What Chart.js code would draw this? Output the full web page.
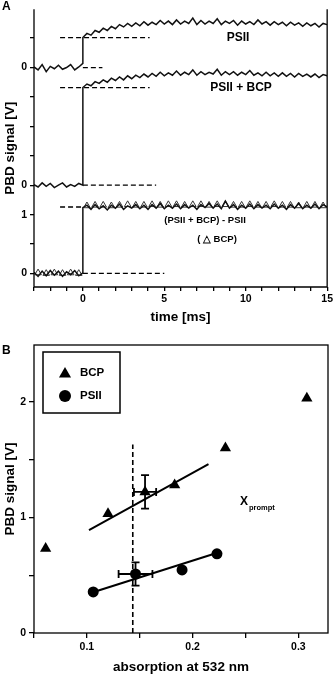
<!DOCTYPE html>
<html>
<head>
<meta charset="utf-8">
<script src="https://cdn.jsdelivr.net/npm/chart.js@4.4.0/dist/chart.umd.min.js"></script>
<style>
  html, body { margin: 0; padding: 0; background: #fff; }
  #wrap { position: relative; width: 335px; height: 675px; }
  canvas { position: absolute; left: 0; }
</style>
</head>
<body>
<div id="wrap">
  <canvas id="chartA" width="335" height="333" style="top:0;width:335px;height:333px"></canvas>
  <canvas id="chartB" width="335" height="342" style="top:333px;width:335px;height:342px"></canvas>
</div>
<script>
// ---- panel A: PBD traces (time in ms, signal in V, each trace relative to its own zero)
const timePre = [-3, -2.75, -2.5, -2.25, -2, -1.75, -1.5, -1.25, -1, -0.75, -0.5, -0.25, 0];
const timePost = [0, 0.25, 0.5, 0.75, 1, 1.25, 1.5, 1.75, 2, 2.25, 2.5, 2.75, 3, 3.25, 3.5, 3.75,
  4, 4.25, 4.5, 4.75, 5, 5.25, 5.5, 5.75, 6, 6.25, 6.5, 6.75, 7, 7.25, 7.5, 7.75,
  8, 8.25, 8.5, 8.75, 9, 9.25, 9.5, 9.75, 10, 10.25, 10.5, 10.75, 11, 11.25, 11.5, 11.75,
  12, 12.25, 12.5, 12.75, 13, 13.25, 13.5, 13.75, 14, 14.25, 14.5, 14.75, 15];

const psiiPre = [0.01, -0.04, 0.05, -0.07, 0.02, -0.02, 0.04, -0.03, 0.00, 0.05, -0.04, 0.01, 0.07];
const psiiPost = [0.51, 0.58, 0.55, 0.63, 0.60, 0.67, 0.63, 0.70, 0.66, 0.73, 0.69, 0.75,
  0.70, 0.76, 0.71, 0.78, 0.72, 0.77, 0.73, 0.80, 0.74, 0.79, 0.73, 0.81,
  0.74, 0.79, 0.75, 0.84, 0.73, 0.80, 0.74, 0.79, 0.75, 0.83, 0.73, 0.79,
  0.75, 0.80, 0.72, 0.79, 0.74, 0.78, 0.73, 0.81, 0.74, 0.78, 0.72, 0.78,
  0.73, 0.77, 0.71, 0.77, 0.72, 0.76, 0.70, 0.76, 0.71, 0.75, 0.69, 0.75, 0.73];

const psiiBcpPre = [0.01, -0.03, 0.04, -0.02, 0.03, -0.04, 0.00, 0.04, -0.03, 0.01, -0.02, 0.03, 0.00];
const psiiBcpPost = [1.66, 1.72, 1.69, 1.76, 1.73, 1.79, 1.75, 1.82, 1.78, 1.84, 1.79, 1.86,
  1.81, 1.87, 1.83, 1.89, 1.84, 1.90, 1.85, 1.92, 1.86, 1.91, 1.87, 1.94,
  1.87, 1.92, 1.88, 1.96, 1.87, 1.93, 1.88, 1.92, 1.89, 1.97, 1.87, 1.93,
  1.88, 1.93, 1.87, 1.92, 1.88, 1.95, 1.87, 1.91, 1.86, 1.92, 1.86, 1.91,
  1.85, 1.91, 1.85, 1.90, 1.84, 1.90, 1.85, 1.89, 1.84, 1.89, 1.83, 1.88, 1.86];

const diffPre = [0.02, -0.05, 0.04, -0.04, 0.05, -0.03, 0.04, -0.05, 0.03, -0.02, 0.05, -0.04, 0.01];
const diffPost = [1.12, 1.16, 1.09, 1.17, 1.10, 1.15, 1.08, 1.16, 1.11, 1.18, 1.09, 1.15,
  1.11, 1.17, 1.10, 1.16, 1.09, 1.17, 1.11, 1.19, 1.10, 1.16, 1.11, 1.18,
  1.10, 1.17, 1.11, 1.16, 1.09, 1.17, 1.12, 1.19, 1.11, 1.18, 1.10, 1.23,
  1.11, 1.17, 1.09, 1.16, 1.11, 1.18, 1.10, 1.17, 1.11, 1.16, 1.10, 1.18,
  1.11, 1.16, 1.09, 1.17, 1.11, 1.19, 1.10, 1.16, 1.11, 1.18, 1.10, 1.17, 1.13];

// open triangles: BCP trace overlaid on the difference
const bcpTime = [-2.75, -2.25, -1.75, -1.25, -0.75, -0.25, 0.25, 0.75, 1.25, 1.75, 2.25, 2.75,
  3.25, 3.75, 4.25, 4.75, 5.25, 5.75, 6.25, 6.75, 7.25, 7.75, 8.25, 8.75,
  9.25, 9.75, 10.25, 10.75, 11.25, 11.75, 12.25, 12.75, 13.25, 13.75, 14.25, 14.75];
const bcpSignal = [0.01, 0.00, 0.01, 0.00, 0.01, 0.00, 1.15, 1.16, 1.16, 1.15, 1.16, 1.17,
  1.16, 1.16, 1.17, 1.16, 1.17, 1.17, 1.16, 1.17, 1.17, 1.16, 1.17, 1.17,
  1.16, 1.16, 1.17, 1.16, 1.16, 1.17, 1.16, 1.16, 1.15, 1.16, 1.16, 1.15];

// zero level of each stacked trace on the shared axis
const traceOffsets = [3.5, 1.5, 0];
// prompt (jump) level of each trace and the dashed guide extents
const jumpLevels = [0.51, 1.66, 1.13];
const jumpDashFrom = [-1.4, -1.4, -1.4];
const jumpDashTo = [4.1, 4.1, 0];
const baseDashTo = [1.2, 4.5, 5];

const xTicksA = [-3, -2, -1, 0, 1, 2, 3, 4, 5, 6, 7, 8, 9, 10, 11, 12, 13, 14, 15];
const yTicksA = [0, 0.5, 1, 1.5, 2, 2.5, 3, 3.5, 4];
const yTickLabelsA = { '0': '0', '1': '1', '1.5': '0', '3.5': '0' };

// ---- panel B: PBD signal vs absorption
const bcpAbs = [0.061, 0.12, 0.155, 0.183, 0.231, 0.308];
const bcpPbd = [0.73, 1.03, 1.22, 1.28, 1.60, 2.03];
const psiiAbs = [0.106, 0.146, 0.19, 0.223];
const psiiPbd = [0.355, 0.51, 0.545, 0.685];
const bcpFitX = [0.102, 0.215];
const bcpFitY = [0.89, 1.46];
const psiiFitX = [0.105, 0.222];
const psiiFitY = [0.35, 0.69];
const promptAbs = 0.1434;
const promptTop = 1.63;
// error bars: [index, x error, y error]
const bcpErr = [2, 0.0105, 0.145];
const psiiErr = [1, 0.016, 0.1];

const xTicksB = [0.05, 0.1, 0.15, 0.2, 0.25, 0.3];
const yTicksB = [0, 0.5, 1, 1.5, 2];

const FONT = "'Liberation Sans', Arial, sans-serif";
Chart.defaults.font.family = FONT;
Chart.defaults.color = '#000';

const pts = (xs, ys, off) => xs.map((x, i) => ({ x: x, y: ys[i] + (off || 0) }));

const tickFont = { size: 10.5, weight: 'bold' };
const titleFont = { size: 13.5, weight: 'bold' };
const axisGrid = { drawOnChartArea: false, tickLength: 4, color: '#000', lineWidth: 1.3 };

// ---- chart A
const pre = [psiiPre, psiiBcpPre, diffPre];
const post = [psiiPost, psiiBcpPost, diffPost];
const dsA = [];
for (let i = 0; i < 3; i++) {
  dsA.push({
    data: pts(timePre, pre[i], traceOffsets[i]).concat(pts(timePost, post[i], traceOffsets[i])),
    showLine: true, borderColor: '#111', borderWidth: 1.5, pointRadius: 0
  });
  dsA.push({
    data: [{ x: jumpDashFrom[i], y: jumpLevels[i] + traceOffsets[i] }, { x: jumpDashTo[i], y: jumpLevels[i] + traceOffsets[i] }],
    showLine: true, borderColor: '#000', borderWidth: 1.3, borderDash: [5, 3], pointRadius: 0
  });
  dsA.push({
    data: [{ x: 0, y: traceOffsets[i] }, { x: baseDashTo[i], y: traceOffsets[i] }],
    showLine: true, borderColor: '#000', borderWidth: 1.3, borderDash: [5, 3], pointRadius: 0
  });
}
dsA.push({
  data: pts(bcpTime, bcpSignal, 0),
  showLine: false, pointStyle: 'triangle', pointRadius: 3.8,
  pointBorderColor: '#333', pointBackgroundColor: 'rgba(0,0,0,0)', pointBorderWidth: 1
});

const panelA = {
  id: 'panelA',
  afterDraw(chart) {
    const { ctx, chartArea: a } = chart;
    ctx.save();
    ctx.strokeStyle = '#000';
    ctx.lineWidth = 1.3;
    ctx.beginPath();
    ctx.moveTo(a.left, a.top);
    ctx.lineTo(a.left, a.bottom);
    ctx.lineTo(a.right, a.bottom);
    ctx.lineTo(a.right, a.top);
    ctx.stroke();
    ctx.fillStyle = '#000';
    ctx.textAlign = 'center';
    ctx.textBaseline = 'middle';
    ctx.font = 'bold 12px ' + FONT;
    ctx.fillText('PSII', 238, 38);
    ctx.fillText('PSII + BCP', 241, 88);
    ctx.font = 'bold 9.5px ' + FONT;
    ctx.fillText('(PSII + BCP) - PSII', 205, 220);
    ctx.fillText('( \u25B3 BCP)', 217, 239);
    ctx.textAlign = 'left';
    ctx.font = 'bold 12px ' + FONT;
    ctx.fillText('A', 2, 7);
    ctx.restore();
  }
};

new Chart(document.getElementById('chartA'), {
  type: 'scatter',
  data: { datasets: dsA },
  options: {
    responsive: false,
    animation: false,
    layout: { padding: { top: 1, right: 7, left: 0, bottom: 0 } },
    plugins: { legend: { display: false }, tooltip: { enabled: false } },
    scales: {
      x: {
        type: 'linear', min: -3, max: 15,
        afterBuildTicks: s => { s.ticks = xTicksA.map(v => ({ value: v })); },
        afterFit: s => { s.height = 46; },
        ticks: { autoSkip: false, maxRotation: 0, padding: 2, font: tickFont,
          callback: v => (v % 5 === 0 ? String(v) : '') },
        grid: axisGrid,
        border: { display: false },
        title: { display: true, text: 'time [ms]', font: titleFont, padding: { top: 0, bottom: 8 } }
      },
      y: {
        type: 'linear', min: -0.23, max: 4.49,
        afterBuildTicks: s => { s.ticks = yTicksA.map(v => ({ value: v })); },
        afterFit: s => { s.width = 34; },
        ticks: { autoSkip: false, padding: 3, font: tickFont,
          callback: v => (yTickLabelsA[String(v)] || '') },
        grid: axisGrid,
        border: { display: false },
        title: { display: true, text: 'PBD signal [V]', font: titleFont, padding: { top: 2, bottom: 0 } }
      }
    }
  },
  plugins: [panelA]
});

// ---- chart B
const dsB = [
  { data: pts(bcpAbs, bcpPbd), showLine: false, pointStyle: 'triangle', pointRadius: 6.5,
    pointBackgroundColor: '#000', pointBorderColor: '#000', pointBorderWidth: 0 },
  { data: pts(psiiAbs, psiiPbd), showLine: false, pointStyle: 'circle', pointRadius: 5.5,
    pointBackgroundColor: '#000', pointBorderColor: '#000', pointBorderWidth: 0 },
  { data: pts(bcpFitX, bcpFitY), showLine: true, borderColor: '#000', borderWidth: 2, pointRadius: 0 },
  { data: pts(psiiFitX, psiiFitY), showLine: true, borderColor: '#000', borderWidth: 2, pointRadius: 0 },
  { data: [{ x: promptAbs, y: 0 }, { x: promptAbs, y: promptTop }], showLine: true,
    borderColor: '#000', borderWidth: 1.6, borderDash: [5, 3], pointRadius: 0 }
];

function drawTriangle(ctx, x, y, r) {
  ctx.beginPath();
  ctx.moveTo(x, y - r);
  ctx.lineTo(x + r * 0.866, y + r / 2);
  ctx.lineTo(x - r * 0.866, y + r / 2);
  ctx.closePath();
  ctx.fill();
}

const panelB = {
  id: 'panelB',
  afterDatasetsDraw(chart) {
    const { ctx, scales: { x, y } } = chart;
    ctx.save();
    ctx.strokeStyle = '#000';
    ctx.lineWidth = 1.8;
    [[bcpAbs, bcpPbd, bcpErr], [psiiAbs, psiiPbd, psiiErr]].forEach(([xs, ys, e]) => {
      const cx = xs[e[0]], cy = ys[e[0]];
      const px = x.getPixelForValue(cx), py = y.getPixelForValue(cy);
      const x0 = x.getPixelForValue(cx - e[1]), x1 = x.getPixelForValue(cx + e[1]);
      const y0 = y.getPixelForValue(cy - e[2]), y1 = y.getPixelForValue(cy + e[2]);
      ctx.beginPath();
      ctx.moveTo(px, y0); ctx.lineTo(px, y1);
      ctx.moveTo(px - 4, y0); ctx.lineTo(px + 4, y0);
      ctx.moveTo(px - 4, y1); ctx.lineTo(px + 4, y1);
      ctx.moveTo(x0, py); ctx.lineTo(x1, py);
      ctx.moveTo(x0, py - 4); ctx.lineTo(x0, py + 4);
      ctx.moveTo(x1, py - 4); ctx.lineTo(x1, py + 4);
      ctx.stroke();
    });
    ctx.restore();
  },
  afterDraw(chart) {
    const { ctx, chartArea: a } = chart;
    ctx.save();
    ctx.strokeStyle = '#000';
    ctx.lineWidth = 1.3;
    ctx.strokeRect(a.left, a.top, a.right - a.left, a.bottom - a.top);
    // legend box
    ctx.lineWidth = 1.5;
    ctx.strokeRect(43, 19, 77, 61);
    ctx.fillStyle = '#000';
    drawTriangle(ctx, 65, 41, 7);
    ctx.beginPath();
    ctx.arc(65, 63, 6, 0, Math.PI * 2);
    ctx.fill();
    ctx.textAlign = 'left';
    ctx.textBaseline = 'middle';
    ctx.font = 'bold 11.5px ' + FONT;
    ctx.fillText('BCP', 80, 40);
    ctx.fillText('PSII', 80, 63);
    // X prompt label
    ctx.font = 'bold 12px ' + FONT;
    ctx.fillText('X', 240, 169);
    ctx.font = 'bold 7.5px ' + FONT;
    ctx.fillText('prompt', 249, 175);
    ctx.font = 'bold 12px ' + FONT;
    ctx.fillText('B', 2, 18);
    ctx.restore();
  }
};

new Chart(document.getElementById('chartB'), {
  type: 'scatter',
  data: { datasets: dsB },
  options: {
    responsive: false,
    animation: false,
    layout: { padding: { top: 12, right: 7, left: 0, bottom: 0 } },
    plugins: { legend: { display: false }, tooltip: { enabled: false } },
    scales: {
      x: {
        type: 'linear', min: 0.05, max: 0.328,
        afterBuildTicks: s => { s.ticks = xTicksB.map(v => ({ value: v })); },
        afterFit: s => { s.height = 42; },
        ticks: { autoSkip: false, maxRotation: 0, padding: 3, font: tickFont,
          callback: v => (Math.round(v * 100) % 10 === 0 ? v.toFixed(1) : '') },
        grid: Object.assign({}, axisGrid, { tickLength: 5 }),
        border: { display: false },
        title: { display: true, text: 'absorption at 532 nm', font: titleFont, padding: { top: 0, bottom: 0 } }
      },
      y: {
        type: 'linear', min: 0, max: 2.49,
        afterBuildTicks: s => { s.ticks = yTicksB.map(v => ({ value: v })); },
        afterFit: s => { s.width = 34; },
        ticks: { autoSkip: false, padding: 3, font: tickFont,
          callback: v => (Number.isInteger(v) ? String(v) : '') },
        grid: Object.assign({}, axisGrid, { tickLength: 5 }),
        border: { display: false },
        title: { display: true, text: 'PBD signal [V]', font: titleFont, padding: { top: 2, bottom: 0 } }
      }
    }
  },
  plugins: [panelB]
});
</script>
</body>
</html>
